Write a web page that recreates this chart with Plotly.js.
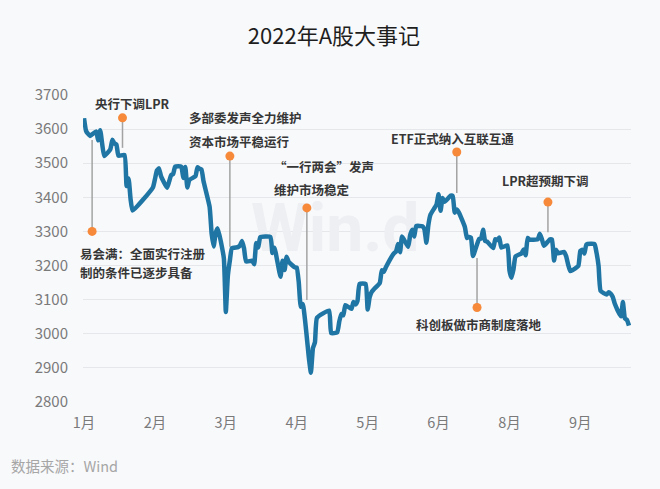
<!DOCTYPE html>
<html>
<head>
<meta charset="utf-8">
<script src="https://cdn.plot.ly/plotly-3.0.1.min.js"></script>
<style>
  html, body { margin: 0; padding: 0; background: #f8f9fb; }
  #chart { width: 660px; height: 489px; }
</style>
</head>
<body>
<div id="chart"></div>
<script>
// 上证指数 2022 收盘 (trading days)
var days = [
  '01-04','01-05','01-06','01-07','01-10','01-11','01-12','01-13','01-14','01-17','01-18','01-19','01-20','01-21','01-24','01-25','01-26','01-27','01-28',
  '02-07','02-08','02-09','02-10','02-11','02-14','02-15','02-16','02-17','02-18','02-21','02-22','02-23','02-24','02-25','02-28',
  '03-01','03-02','03-03','03-04','03-07','03-08','03-09','03-10','03-11','03-14','03-15','03-16','03-17','03-18','03-21','03-22','03-23','03-24','03-25','03-28','03-29','03-30','03-31',
  '04-01','04-06','04-07','04-08','04-11','04-12','04-13','04-14','04-15','04-18','04-19','04-20','04-21','04-22','04-25','04-26','04-27','04-28','04-29',
  '05-05','05-06','05-09','05-10','05-11','05-12','05-13','05-16','05-17','05-18','05-19','05-20','05-23','05-24','05-25','05-26','05-27','05-30','05-31',
  '06-01','06-02','06-06','06-07','06-08','06-09','06-10','06-13','06-14','06-15','06-16','06-17','06-20','06-21','06-22','06-23','06-24','06-27','06-28','06-29','06-30',
  '07-01','07-04','07-05','07-06','07-07','07-08','07-11','07-12','07-13','07-14','07-15','07-18','07-19','07-20','07-21','07-22','07-25','07-26','07-27','07-28','07-29',
  '08-01','08-02','08-03','08-04','08-05','08-08','08-09','08-10','08-11','08-12','08-15','08-16','08-17','08-18','08-19','08-22','08-23','08-24','08-25','08-26','08-29','08-30','08-31',
  '09-01','09-02','09-05','09-06','09-07','09-08','09-09','09-13','09-14','09-15','09-16','09-19','09-20','09-21','09-22','09-23','09-26','09-27','09-28','09-29','09-30'
];
var closes = [
  3632,3595,3586,3580,3593,3567,3597,3555,3521,3541,3569,3558,3555,3522,3524,3433,3455,3394,3361,
  3429,3453,3479,3485,3462,3428,3446,3465,3468,3490,3490,3457,3489,3429,3451,3462,
  3488,3484,3481,3447,3372,3293,3256,3296,3309,3223,3064,3170,3215,3251,3254,3259,3272,3250,3212,3214,3204,3266,3253,
  3283,3284,3237,3252,3167,3214,3187,3226,3211,3195,3194,3151,3079,3087,2929,2886,2958,2975,3047,
  3068,3002,3004,3036,3058,3054,3084,3073,3093,3086,3097,3146,3146,3071,3107,3123,3130,3149,3186,
  3182,3195,3236,3241,3263,3239,3285,3255,3289,3305,3285,3316,3315,3307,3267,3320,3349,3379,3409,3361,3398,
  3387,3405,3404,3355,3364,3356,3313,3281,3284,3282,3228,3278,3279,3305,3272,3270,3251,3277,3275,3282,3253,
  3259,3186,3164,3189,3227,3236,3247,3230,3281,3276,3276,3277,3293,3278,3258,3277,3276,3215,3246,3236,3240,3227,3202,
  3184,3186,3199,3243,3246,3235,3262,3263,3237,3199,3126,3115,3122,3117,3108,3088,3051,3093,3045,3041,3024
];

var tickDates = ['2022-01-04','2022-02-08','2022-03-15','2022-04-19','2022-05-24','2022-06-28','2022-08-02','2022-09-06'];
var tickLabels = ['1月','2月','3月','4月','5月','6月','8月','9月'];

// 大事记
var eventLabels = [
  ['易会满：全面实行注册', '制的条件已逐步具备'],
  ['央行下调LPR'],
  ['多部委发声全力维护', '资本市场平稳运行'],
  ['“一行两会”发声', '维护市场稳定'],
  ['ETF正式纳入互联互通'],
  ['科创板做市商制度落地'],
  ['LPR超预期下调']
];
var eventDates = ['2022-01-08','2022-01-23','2022-03-17','2022-04-24','2022-07-07','2022-07-17','2022-08-21'];
var eventDotY = [3300, 3633, 3521, 3369, 3533, 3077, 3386];
var eventLineY = [3568, 3545, 3255, 3099, 3413, 3222, 3298];

var x = days.map(function(d){ return '2022-' + d; });

// label placement relative to the dot (px): anchor, dx, dy of each line
var labelPos = [
  {anchor: 'left', dx: -14, dy: [22, 41]},
  {anchor: 'center', dx: 10, dy: [-14]},
  {anchor: 'left', dx: -43, dy: [-39, -15]},
  {anchor: 'left', dx: -35, dy: [-41, -18]},
  {anchor: 'center', dx: -4, dy: [-13]},
  {anchor: 'center', dx: 2, dy: [17]},
  {anchor: 'center', dx: -2, dy: [-22]}
];

var stemX = [], stemY = [];
eventDates.forEach(function(d, i){
  stemX.push(d, d, null);
  stemY.push(eventDotY[i], eventLineY[i], null);
});

var cjk = '"Noto Sans CJK SC", "Noto Sans", sans-serif';

var traces = [
  { // watermark
    x: ['2022-05-08'], y: [3290], mode: 'text', text: ['<b>Win.d</b>'],
    textfont: {family: 'Roboto, "Noto Sans", sans-serif', size: 66, color: '#edeff2'},
    hoverinfo: 'skip', showlegend: false
  },
  {
    x: stemX, y: stemY, mode: 'lines',
    line: {color: '#a3a3a3', width: 1.5},
    hoverinfo: 'skip', showlegend: false
  },
  {
    x: x, y: closes, mode: 'lines',
    line: {color: '#1f76a4', width: 4.5, shape: 'spline', smoothing: 0.4},
    showlegend: false
  },
  {
    x: eventDates, y: eventDotY, mode: 'markers',
    marker: {color: '#f6893a', size: 9},
    hoverinfo: 'skip', showlegend: false
  }
];

var annotations = [];
eventLabels.forEach(function(lines, i){
  var p = labelPos[i];
  lines.forEach(function(t, k){
    annotations.push({
      x: eventDates[i], y: eventDotY[i], xref: 'x', yref: 'y',
      text: '<b>' + t + '</b>', showarrow: false,
      xanchor: p.anchor, yanchor: 'middle',
      xshift: p.dx, yshift: -p.dy[k],
      font: {family: cjk, size: 12.5, color: '#363636'}
    });
  });
});
annotations.push({
  xref: 'paper', yref: 'paper', x: -0.135, y: -0.208,
  xanchor: 'left', yanchor: 'middle', showarrow: false,
  text: '数据来源：Wind',
  font: {family: cjk, size: 14.5, color: '#a6a6a6'}
});

var layout = {
  width: 660, height: 489,
  paper_bgcolor: '#f8f9fb', plot_bgcolor: '#f8f9fb',
  margin: {l: 83, r: 29, t: 95, b: 87},
  title: {
    text: '2022年A股大事记', x: 0.506, xanchor: 'center', y: 0.925, yanchor: 'middle',
    font: {family: cjk, size: 22, color: '#1e1e1e'}
  },
  xaxis: {
    type: 'date',
    range: ['2022-01-03 12:00', '2022-10-01 00:00'],
    tickmode: 'array', tickvals: tickDates, ticktext: tickLabels,
    showgrid: false, zeroline: false, showline: false, ticks: '',
    ticklabelstandoff: 10,
    tickfont: {family: cjk, size: 14.5, color: '#7a7a7a'}
  },
  yaxis: {
    range: [2800, 3700],
    tickvals: [2800, 2900, 3000, 3100, 3200, 3300, 3400, 3500, 3600, 3700],
    showgrid: true, gridcolor: '#e5e7ea', gridwidth: 1,
    zeroline: false, showline: false, ticks: '',
    ticklabelstandoff: 14,
    tickfont: {family: cjk, size: 15, color: '#7a7a7a'}
  },
  annotations: annotations,
  showlegend: false
};

Plotly.newPlot('chart', traces, layout, {displayModeBar: false, staticPlot: true});
</script>
</body>
</html>
